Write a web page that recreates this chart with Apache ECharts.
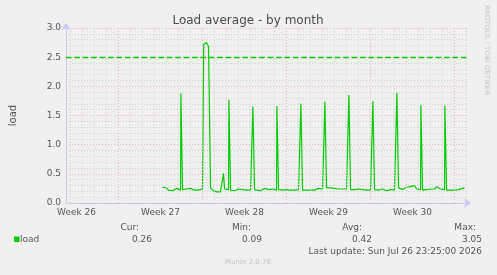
<!DOCTYPE html>
<html><head><meta charset="utf-8">
<script src="https://cdn.jsdelivr.net/npm/echarts@6/dist/echarts.min.js"></script>
<style>html,body{margin:0;padding:0;background:#f0f0f0}#c{width:497px;height:275px}</style>
</head><body><div id="c"></div>
<script>
const chartTitle = 'Load average - by month';
const yAxisName = 'load';
const weekLabels = ['Week 26', 'Week 27', 'Week 28', 'Week 29', 'Week 30'];
const weekLabelPos = [3.5, 10.5, 17.5, 24.5, 31.5];
const weekLines = [7, 14, 21, 28, 35];
const dayLines = [3,4,5,6,8,9,10,11,12,13,15,16,17,18,19,20,22,23,24,25,26,27,29,30,31,32,33,34,36];
const warnLevel = 2.5;
const seriesStart = 10.67;
const seriesStep = 1 / 6;
const loadValues = [
  0.27,0.25,0.26,0.22,0.24,0.21,0.23,0.25,0.22,
  0.22,
  0.23,0.22,0.24,0.22,0.25,0.23,0.22,0.24,0.22,0.23,0.24,
  2.74,2.75,2.68,0.26,
  0.22,0.20,0.19,0.20,0.19,0.21,0.24,0.22,
  0.23,
  0.22,0.23,0.21,0.22,0.24,0.22,0.23,0.21,0.22,0.23,0.22,
  0.22,
  0.23,0.22,0.24,0.21,0.23,0.25,0.22,0.23,0.22,0.24,0.22,
  0.22,
  0.23,0.22,0.22,0.24,0.23,0.25,0.22,0.23,0.22,0.24,0.23,
  0.22,
  0.22,0.23,0.22,0.21,0.22,0.24,0.22,0.23,0.25,0.26,0.24,
  0.23,
  0.26,0.25,0.26,0.24,0.25,0.26,0.24,0.25,0.24,0.23,0.24,
  0.23,
  0.23,0.22,0.23,0.22,0.24,0.22,0.23,0.24,0.22,0.23,0.22,
  0.22,
  0.23,0.22,0.22,0.23,0.24,0.22,0.21,0.22,0.23,0.22,0.23,
  0.23,
  0.26,0.24,0.23,0.25,0.27,0.24,0.28,0.25,0.30,0.24,0.23,
  0.23,
  0.22,0.24,0.23,0.25,0.24,0.27,0.24,0.28,0.25,0.24,0.23,
  0.23,
  0.22,0.23,0.22,0.23,0.22,0.22,0.23,0.24,0.25,0.26
];
const spikeDays = [12.2, 14.1, 15.75, 16.2, 18.2, 20.2, 22.2, 24.2, 26.2, 28.2, 30.2, 32.2, 34.2];
const spikeValues = [1.88, 2.72, 0.51, 1.77, 1.65, 1.66, 1.70, 1.74, 1.85, 1.75, 1.89, 1.68, 1.67];
const legendName = 'load';
const statLabels = ['Cur:', 'Min:', 'Avg:', 'Max:'];
const statValues = ['0.26', '0.09', '0.42', '3.05'];
const lastUpdate = 'Last update: Sun Jul 26 23:25:00 2026';
const footer = 'Munin 2.0.76';
const sideText = 'RRDTOOL / TOBI OETIKER';

const FONT = 'DejaVu Sans';
const txt = '#555555';
const axisColor = '#c4c8f0';
const majorColor = '#eeb4b4';
const minorColor = '#d0d0d0';
const green = '#00cc00';

const lineData = [];
loadValues.forEach((v, i) => lineData.push([seriesStart + i * seriesStep, v]));
spikeDays.forEach((d, i) => lineData.push([d, spikeValues[i]]));
lineData.sort((a, b) => a[0] - b[0]);

const chart = echarts.init(document.getElementById('c'), null, {renderer: 'canvas'});

const statX = [139, 251, 362, 476];
const valX = [152, 262, 372, 482];
const graphics = [
  {type: 'text', x: 248, y: 21, style: {text: chartTitle, align: 'center', verticalAlign: 'middle', fill: '#4a4a4a', fontSize: 12, fontFamily: FONT}},
  {type: 'text', x: 487, y: 5, rotation: -Math.PI / 2, style: {text: sideText, align: 'left', verticalAlign: 'middle', fill: '#c4c4c4', fontSize: 7, fontFamily: FONT}},
  {type: 'rect', shape: {x: 14, y: 236.5, width: 5.5, height: 5.5}, style: {fill: green}},
  {type: 'text', x: 20, y: 239.5, style: {text: legendName, align: 'left', verticalAlign: 'middle', fill: txt, fontSize: 9, fontFamily: FONT}},
  {type: 'text', x: 482, y: 251.5, style: {text: lastUpdate, align: 'right', verticalAlign: 'middle', fill: txt, fontSize: 9, fontFamily: FONT}},
  {type: 'text', x: 248, y: 262.5, style: {text: footer, align: 'center', verticalAlign: 'middle', fill: '#c0c0c0', fontSize: 7, fontFamily: FONT}}
];
statLabels.forEach((s, i) => {
  graphics.push({type: 'text', x: statX[i], y: 227.5, style: {text: s, align: 'right', verticalAlign: 'middle', fill: txt, fontSize: 9, fontFamily: FONT}});
  graphics.push({type: 'text', x: valX[i], y: 239.5, style: {text: statValues[i], align: 'right', verticalAlign: 'middle', fill: txt, fontSize: 9, fontFamily: FONT}});
});

chart.setOption({
  backgroundColor: '#f0f0f0',
  animation: false,
  color: [green],
  textStyle: {fontFamily: FONT},
  grid: {left: 66, right: 29, top: 28, bottom: 72},
  xAxis: {
    type: 'value', min: 2.625, max: 36.125,
    axisLine: {show: true, onZero: false, lineStyle: {color: axisColor, width: 1}, symbol: ['none', 'arrow'], symbolSize: [7, 7], symbolOffset: [0, 3]},
    axisTick: {show: false},
    splitLine: {show: false},
    axisLabel: {customValues: weekLabelPos, formatter: v => weekLabels[weekLabelPos.indexOf(v)] || '', color: txt, fontSize: 9, fontFamily: FONT, margin: 5}
  },
  yAxis: {
    type: 'value', min: 0, max: 3, interval: 0.5,
    name: yAxisName, nameLocation: 'middle', nameGap: 48,
    nameTextStyle: {color: txt, fontSize: 10, fontFamily: FONT},
    axisLine: {show: true, lineStyle: {color: axisColor, width: 1}, symbol: ['none', 'arrow'], symbolSize: [7, 7], symbolOffset: [0, 5]},
    axisTick: {show: false},
    axisLabel: {formatter: v => v.toFixed(1), color: txt, fontSize: 9, fontFamily: FONT, margin: 5},
    splitLine: {show: true, lineStyle: {color: majorColor, type: [1, 2], width: 1}},
    minorTick: {show: false, splitNumber: 5},
    minorSplitLine: {show: true, lineStyle: {color: minorColor, type: [1, 2], width: 1}}
  },
  series: [
    {
      type: 'line', data: [], silent: true, z: 1,
      markLine: {
        silent: true, symbol: ['none', 'none'], label: {show: false}, animation: false,
        data: dayLines.map(d => ({xAxis: d, lineStyle: {color: minorColor, type: [1, 2], width: 1}}))
          .concat(weekLines.map(d => ({xAxis: d, lineStyle: {color: majorColor, type: [1, 2], width: 1}})))
      }
    },
    {
      type: 'line', data: lineData, showSymbol: false, z: 3, color: green,
      lineStyle: {color: green, width: 1.2}, itemStyle: {color: green}
    },
    {
      type: 'line', data: [], silent: true, z: 4, color: green,
      markLine: {
        silent: true, symbol: ['none', 'none'], label: {show: false}, animation: false,
        itemStyle: {color: green},
        lineStyle: {color: green, type: 'dashed', width: 1.4, opacity: 1},
        data: [{yAxis: warnLevel}]
      }
    }
  ],
  graphic: graphics
});
</script>
</body></html>
